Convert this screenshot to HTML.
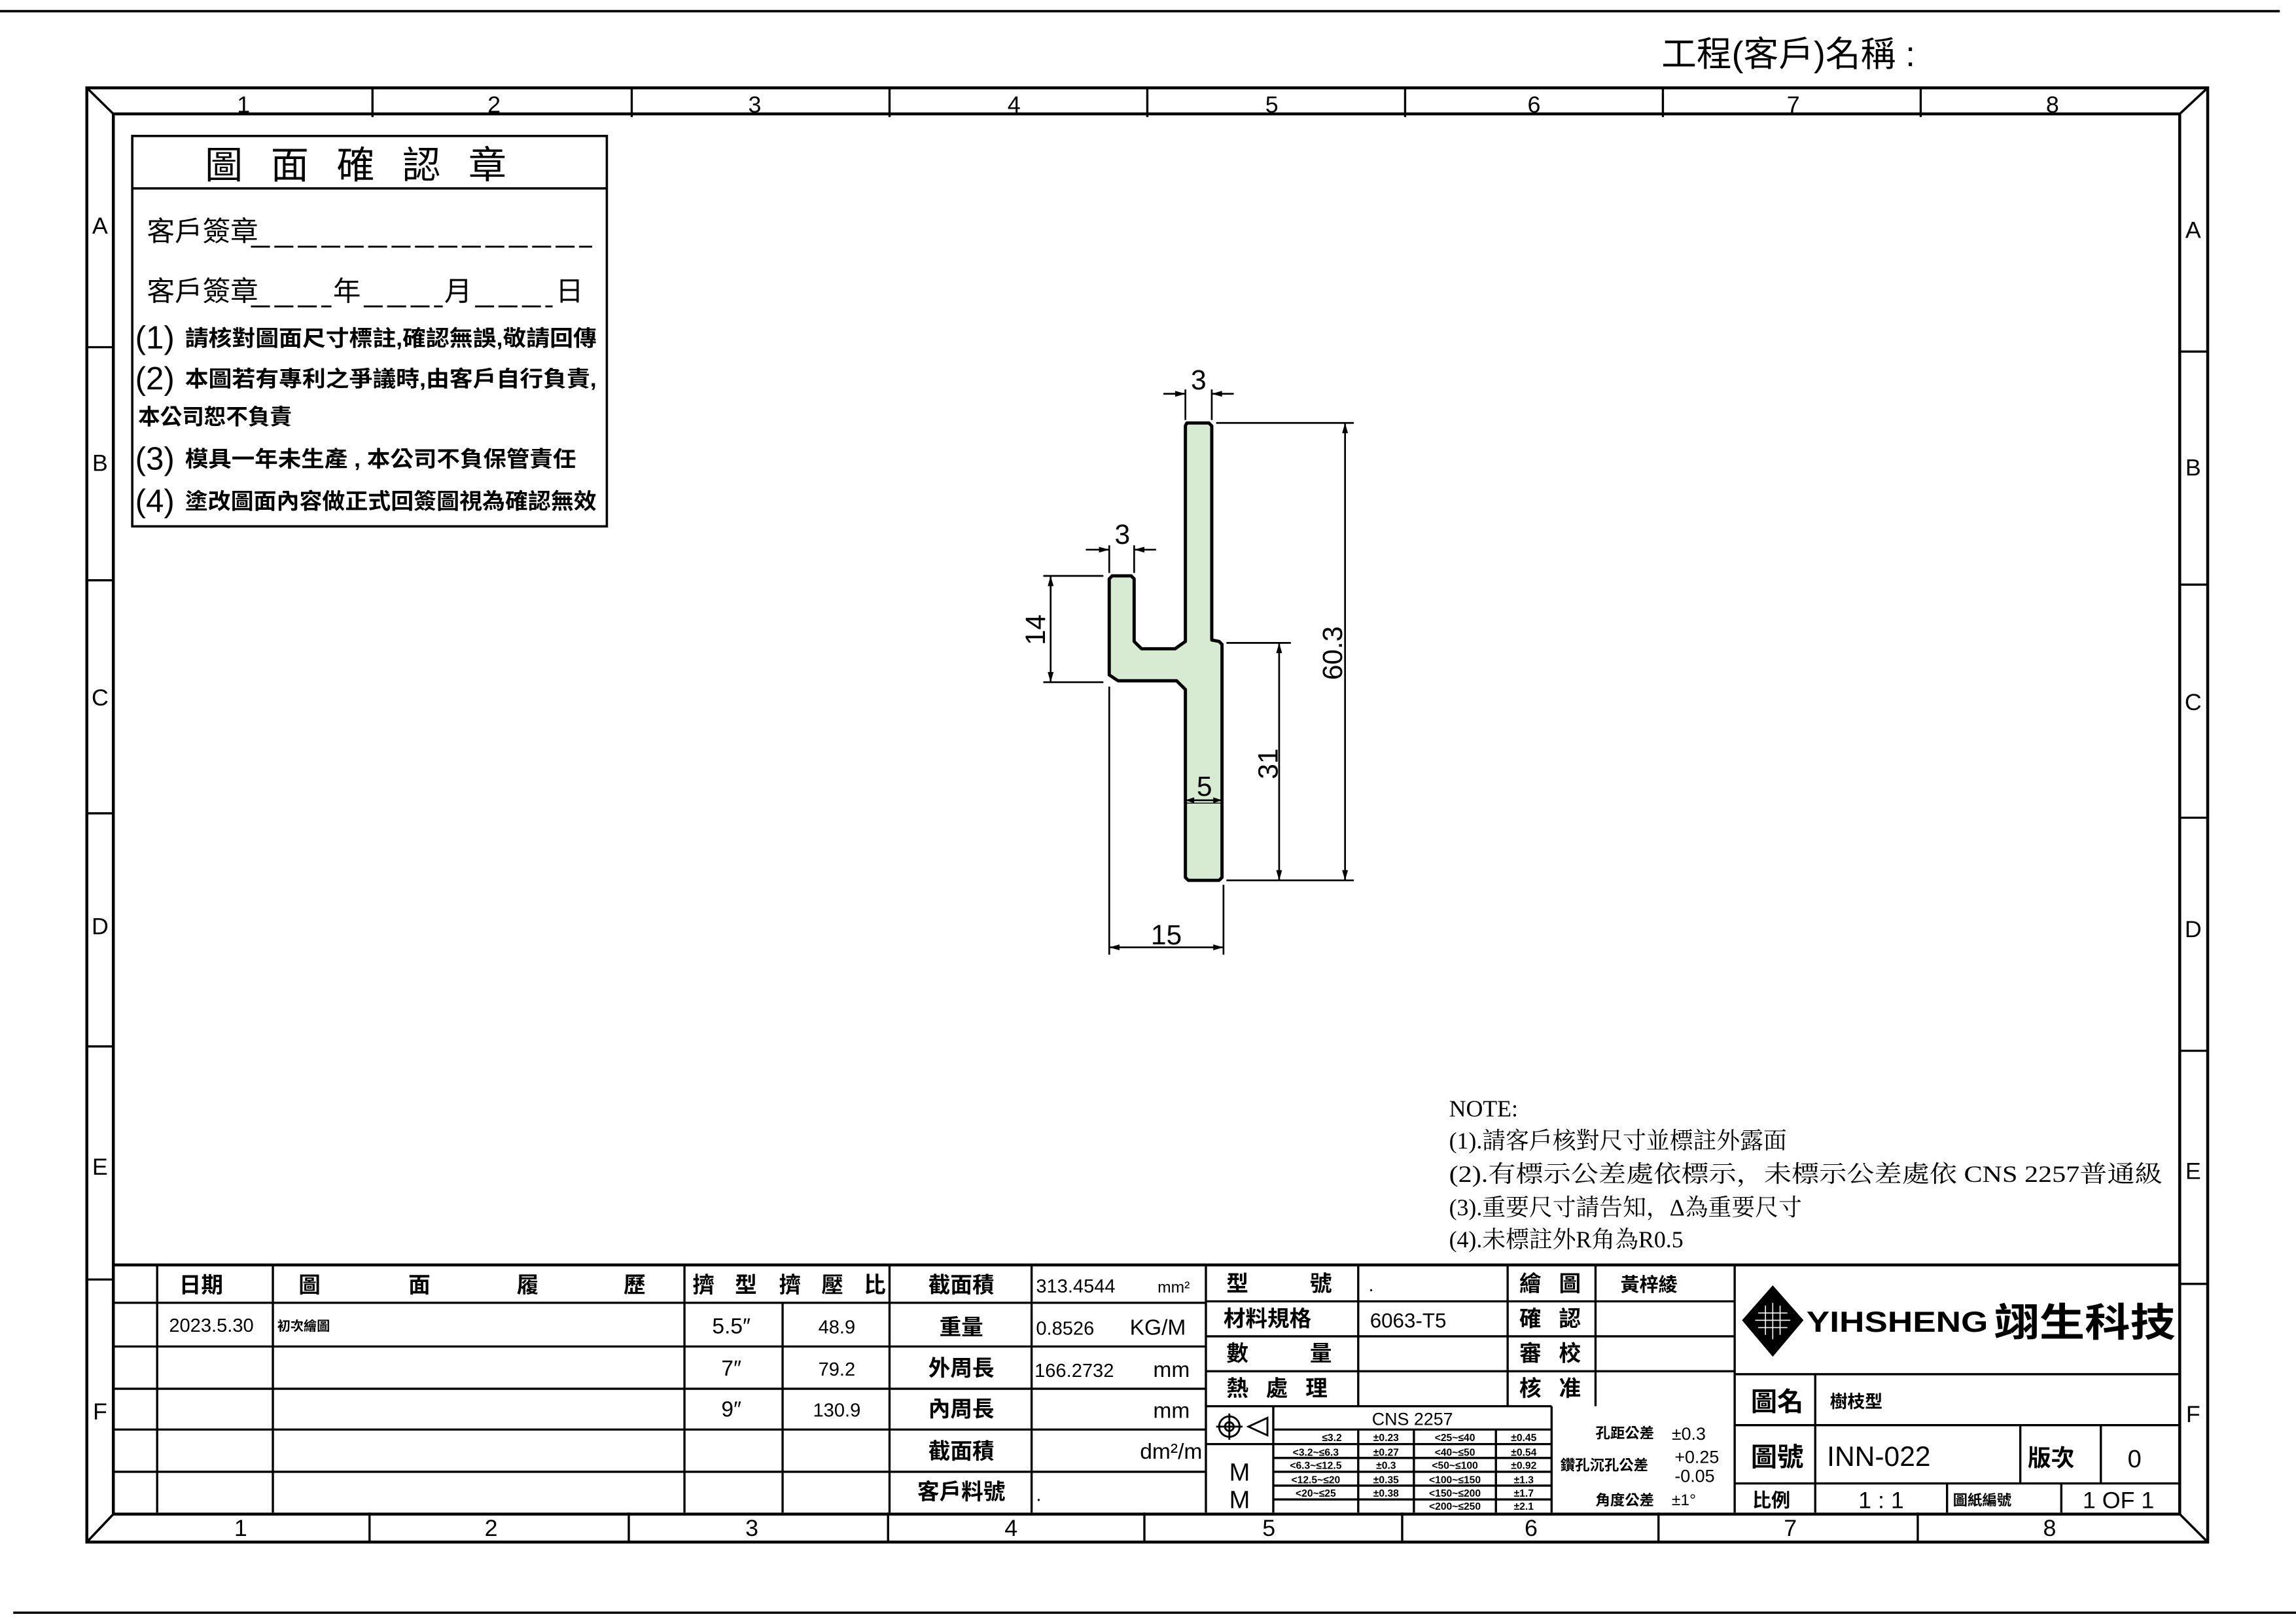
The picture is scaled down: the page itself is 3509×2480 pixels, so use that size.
<!DOCTYPE html>
<html><head><meta charset="utf-8"><style>
html,body{margin:0;padding:0;background:#fff;}
svg{display:block;font-family:"Liberation Sans","Noto Sans CJK TC",sans-serif;}
text{fill:#000;}
.b{font-weight:bold;}
.s{font-family:"Liberation Serif","Noto Serif CJK SC",serif;}
</style></head><body>
<svg width="3509" height="2480" viewBox="0 0 1560 1103" preserveAspectRatio="none" xmlns="http://www.w3.org/2000/svg">
<rect width="1560" height="1103" fill="#fff"/>
<g stroke="#000" fill="none" stroke-width="1.6">
<line x1="0" y1="7.6" x2="1549" y2="7.6"/>
<line x1="9" y1="1096" x2="1560" y2="1096"/>
<rect x="59" y="59.7" width="1441" height="988.3" stroke-width="2"/>
<rect x="77" y="77.4" width="1404" height="951.6" stroke-width="2"/>
<line x1="59" y1="59.7" x2="77" y2="77.4"/><line x1="1500" y1="59.7" x2="1481" y2="77.4"/>
<line x1="59" y1="1048" x2="77" y2="1029"/><line x1="1500" y1="1048" x2="1481" y2="1029"/>
</g>
<g transform="matrix(0.9952 0 0 0.99 -0.7 3.3)">
<g stroke="#000" fill="none" stroke-width="1.5">
<path d="M255 57V77M432 57V77M608 57V77M784 57V77M960 57V77M1136 57V77M1312 57V77"/>
<path d="M253 1035V1055M430 1035V1055M607 1035V1055M782 1035V1055M958 1035V1055M1133 1035V1055M1310 1035V1055"/>
<path d="M60 235H79M60 395H79M60 555H79M60 715H79M60 875H79"/>
<path d="M1489 238H1508M1489 398H1508M1489 558H1508M1489 718H1508M1489 878H1508"/>
</g>
<g font-size="16" text-anchor="middle">
<text x="167" y="74">1</text><text x="338" y="74">2</text><text x="516" y="74">3</text><text x="693" y="74">4</text><text x="869" y="74">5</text><text x="1048" y="74">6</text><text x="1225" y="74">7</text><text x="1402" y="74">8</text>
<text x="165" y="1051">1</text><text x="336" y="1051">2</text><text x="514" y="1051">3</text><text x="691" y="1051">4</text><text x="867" y="1051">5</text><text x="1046" y="1051">6</text><text x="1223" y="1051">7</text><text x="1400" y="1051">8</text>
<text x="69" y="157">A</text><text x="69" y="320">B</text><text x="69" y="481">C</text><text x="69" y="638">D</text><text x="69" y="803">E</text><text x="69" y="971">F</text>
<text x="1498" y="160">A</text><text x="1498" y="323">B</text><text x="1498" y="484">C</text><text x="1498" y="640">D</text><text x="1498" y="806">E</text><text x="1498" y="973">F</text>
</g>
<text x="1135" y="42" font-size="24">工程(客戶)名稱 :</text>

<!-- stamp box -->
<rect x="91" y="90" width="324" height="268" fill="none" stroke="#000" stroke-width="1.6"/>
<line x1="91" y1="126" x2="415" y2="126" stroke="#000" stroke-width="1.6"/>
<text x="253" y="119" font-size="26" text-anchor="middle" letter-spacing="19">圖面確認章</text>
<text x="101" y="162" font-size="19">客戶簽章</text>
<line x1="172" y1="166" x2="405" y2="166" stroke="#000" stroke-width="1.3" stroke-dasharray="13 3"/>
<text x="101" y="203" font-size="19">客戶簽章</text>
<path d="M172 207H227M249 207H303M325 207H378" stroke="#000" stroke-width="1.3" stroke-dasharray="13 3"/>
<text x="228" y="203" font-size="19">年</text><text x="304" y="203" font-size="19">月</text><text x="380" y="203" font-size="19">日</text>
<g font-size="22"><text x="93" y="236">(1)</text><text x="93" y="264">(2)</text><text x="93" y="319">(3)</text><text x="93" y="348">(4)</text></g>
<g font-size="15" class="b">
<text x="127" y="234" textLength="281" lengthAdjust="spacingAndGlyphs">請核對圖面尺寸標註,確認無誤,敬請回傳</text>
<text x="127" y="262" textLength="281" lengthAdjust="spacingAndGlyphs">本圖若有專利之爭議時,由客戶自行負責,</text>
<text x="95" y="288">本公司恕不負責</text>
<text x="127" y="317" textLength="267" lengthAdjust="spacingAndGlyphs">模具一年未生產 , 本公司不負保管責任</text>
<text x="127" y="346" textLength="281" lengthAdjust="spacingAndGlyphs">塗改圖面內容做正式回簽圖視為確認無效</text>
</g>

<!-- profile -->
<path d="M811,287 L826,287 L828,289 L828,436 L833,437 L835,439 L835,599 L833,601 L812,601 L810,599 L810,470 L804,464 L764,464 L758,460 L758,394 L760,392 L773,392 L775,394 L775,437 L780,442 L803,442 L810,437 L810,289 Z" fill="#d7ead2" stroke="#000" stroke-width="2.2" stroke-linejoin="round"/>
<line x1="810" y1="548" x2="835" y2="548" stroke="#000" stroke-width="0.6"/>
<g stroke="#000" stroke-width="1.2" fill="none">
<path d="M810 264V285M828 264V285M795 267H810M828 267H843"/>
<path d="M758 371V390M775 371V390M742 374H758M775 374H790"/>
<path d="M713 392H754M713 465H754M718 392V465"/>
<path d="M831 287H925M838 601H925M919 287V601"/>
<path d="M838 438H882M874 438V601"/>
<path d="M810 546H835"/>
<path d="M758 468V652M836 604V652M758 647H836"/>
</g>
<g fill="#000">
<path d="M810 267l-7 -2v4zM828 267l7 -2v4zM758 374l-7 -2v4zM775 374l7 -2v4z"/>
<path d="M718 392l-2 7h4zM718 465l-2 -7h4zM919 287l-2 7h4zM919 601l-2 -7h4zM874 438l-2 7h4zM874 601l-2 -7h4z"/>
<path d="M810 546l6 -2v4zM835 546l-6 -2v4zM758 647l7 -2v4zM836 647l-7 -2v4z"/>
</g>
<g font-size="19" text-anchor="middle">
<text x="819" y="264">3</text><text x="767" y="370">3</text>
<text x="823" y="543">5</text><text x="797" y="645">15</text>
<text transform="translate(714,429) rotate(-90)">14</text>
<text transform="translate(917,445) rotate(-90)">60.3</text>
<text transform="translate(873,521) rotate(-90)">31</text>
</g>

<!-- notes -->
<g class="s" font-size="16">
<text x="990" y="763">NOTE:</text>
<text x="990" y="785">(1).請客戶核對尺寸並標註外露面</text>
<text x="990" y="808" textLength="487" lengthAdjust="spacingAndGlyphs">(2).有標示公差處依標示，未標示公差處依 CNS 2257普通級</text>
<text x="990" y="831">(3).重要尺寸請告知，Δ為重要尺寸</text>
<text x="990" y="853">(4).未標註外R角為R0.5</text>
</g>

<!-- title block -->
<g stroke="#000" stroke-width="1.5" fill="none">
<line x1="79" y1="865" x2="1489" y2="865" stroke-width="2"/>
<path d="M79 891H824M79 921H824M79 950H824M79 978H824M79 1007H824"/>
<path d="M108 865V1035M187 865V1035M468 865V1035M535 891V1035M608 865V1035M705 865V1035M824 865V1035"/>
<path d="M824 890H1185M824 914H1185M824 938H1185M824 962H1060"/>
<path d="M928 865V962M1030 865V962M1090 865V962M1185 865V1035"/>
<path d="M870 962V1035M870 978H1060M870 988H1060M870 997.5H1060M870 1007H1060M870 1016.5H1060M870 1026H1060M824 988H870M928 978V1035M966 978V1035M1022 978V1035M1060 962V1035"/>
<path d="M1185 940H1489M1185 975H1489M1185 1015H1489M1240 940V1035M1380 975V1015M1435 975V1015M1330 1015V1035M1408 1015V1035"/>
</g>
<g font-size="15" class="b" text-anchor="middle">
<text x="138" y="884">日期</text><text x="212" y="884">圖</text><text x="287" y="884">面</text><text x="361" y="884">履</text><text x="434" y="884">歷</text>
<text x="481" y="884">擠</text><text x="510" y="884">型</text><text x="540" y="884">擠</text><text x="569" y="884">壓</text><text x="598" y="884">比</text>
<text x="657" y="884">截面積</text><text x="657" y="913">重量</text><text x="657" y="941">外周長</text><text x="657" y="969">內周長</text><text x="657" y="998">截面積</text><text x="657" y="1026">客戶料號</text>
</g>
<g font-size="13">
<text x="145" y="911" text-anchor="middle">2023.5.30</text>
<text x="190" y="910" font-size="9" class="b">初次繪圖</text>
<text x="500" y="912" text-anchor="middle" font-size="15">5.5″</text><text x="572" y="912" text-anchor="middle">48.9</text>
<text x="500" y="941" text-anchor="middle" font-size="15">7″</text><text x="572" y="941" text-anchor="middle">79.2</text>
<text x="500" y="969" text-anchor="middle" font-size="15">9″</text><text x="572" y="969" text-anchor="middle">130.9</text>
<text x="708" y="884">313.4544</text><text x="791" y="884" font-size="11">mm²</text>
<text x="708" y="913">0.8526</text><text x="772" y="913" font-size="15">KG/M</text>
<text x="707" y="942">166.2732</text><text x="788" y="942" font-size="15">mm</text>
<text x="788" y="970" font-size="15">mm</text>
<text x="779" y="998" font-size="15">dm²/m</text>
<text x="708" y="1027">.</text>
</g>
<g font-size="15" class="b">
<text x="838" y="883">型</text><text x="895" y="883">號</text>
<text x="836" y="907">材料規格</text>
<text x="838" y="931">數</text><text x="895" y="931">量</text>
<text x="838" y="955">熱</text><text x="865" y="955">處</text><text x="892" y="955">理</text>
<text x="1038" y="883">繪</text><text x="1065" y="883">圖</text>
<text x="1038" y="907">確</text><text x="1065" y="907">認</text>
<text x="1038" y="931">審</text><text x="1065" y="931">校</text>
<text x="1038" y="955">核</text><text x="1065" y="955">准</text>
<text x="1107" y="883" font-size="13">黃梓綾</text>
</g>
<text x="935" y="883" font-size="13">.</text>
<text x="936" y="908" font-size="14">6063-T5</text>

<g stroke="#000" stroke-width="1.3" fill="none">
<circle cx="840" cy="976" r="7"/><circle cx="840" cy="976" r="3"/><path d="M831 976H849M840 967V985"/>
<path d="M853 976L866 970V982Z"/>
</g>
<text x="847" y="1013" font-size="17" text-anchor="middle">M</text>
<text x="847" y="1032" font-size="17" text-anchor="middle">M</text>
<text x="965" y="975" font-size="12" text-anchor="middle">CNS 2257</text>
<g font-size="7" class="b" text-anchor="middle">
<text x="910" y="986">≤3.2</text><text x="947" y="986">±0.23</text><text x="994" y="986">&lt;25~≤40</text><text x="1041" y="986">±0.45</text>
<text x="899" y="996">&lt;3.2~≤6.3</text><text x="947" y="996">±0.27</text><text x="994" y="996">&lt;40~≤50</text><text x="1041" y="996">±0.54</text>
<text x="899" y="1005">&lt;6.3~≤12.5</text><text x="947" y="1005">±0.3</text><text x="994" y="1005">&lt;50~≤100</text><text x="1041" y="1005">±0.92</text>
<text x="899" y="1015">&lt;12.5~≤20</text><text x="947" y="1015">±0.35</text><text x="994" y="1015">&lt;100~≤150</text><text x="1041" y="1015">±1.3</text>
<text x="899" y="1024">&lt;20~≤25</text><text x="947" y="1024">±0.38</text><text x="994" y="1024">&lt;150~≤200</text><text x="1041" y="1024">±1.7</text>
<text x="994" y="1033">&lt;200~≤250</text><text x="1041" y="1033">±2.1</text>
</g>
<g font-size="10" class="b">
<text x="1090" y="984">孔距公差</text><text x="1142" y="985" font-size="12" font-weight="normal">±0.3</text>
<text x="1066" y="1006">鑽孔沉孔公差</text><text x="1144" y="1001" font-size="12" font-weight="normal">+0.25</text><text x="1144" y="1014" font-size="12" font-weight="normal">-0.05</text>
<text x="1090" y="1030">角度公差</text><text x="1142" y="1030" font-size="11" font-weight="normal">±1°</text>
</g>

<path d="M1211 879L1232 903L1211 928L1190 903Z" fill="#000"/>
<g stroke="#fff" stroke-width="0.7">
<path d="M1201 898H1221M1199 903H1223M1201 908H1221M1206 893V913M1211 891V916M1216 893V913"/>
</g>
<text x="1234" y="911" font-size="20" class="b" textLength="124" lengthAdjust="spacingAndGlyphs">YIHSHENG</text>
<text x="1362" y="914" font-size="27" class="b" textLength="124" lengthAdjust="spacingAndGlyphs">翊生科技</text>
<text x="1196" y="965" font-size="18" class="b">圖名</text>
<text x="1250" y="963" font-size="12" class="b">樹枝型</text>
<text x="1196" y="1003" font-size="18" class="b">圖號</text>
<text x="1248" y="1003" font-size="19">INN-022</text>
<text x="1385" y="1003" font-size="16" class="b">版次</text>
<text x="1458" y="1004" font-size="17" text-anchor="middle">0</text>
<text x="1197" y="1031" font-size="13" class="b">比例</text>
<text x="1285" y="1032" font-size="16" text-anchor="middle">1 : 1</text>
<text x="1334" y="1030" font-size="10" class="b">圖紙編號</text>
<text x="1447" y="1032" font-size="16" text-anchor="middle">1 OF 1</text>
</g>
</svg>
</body></html>
